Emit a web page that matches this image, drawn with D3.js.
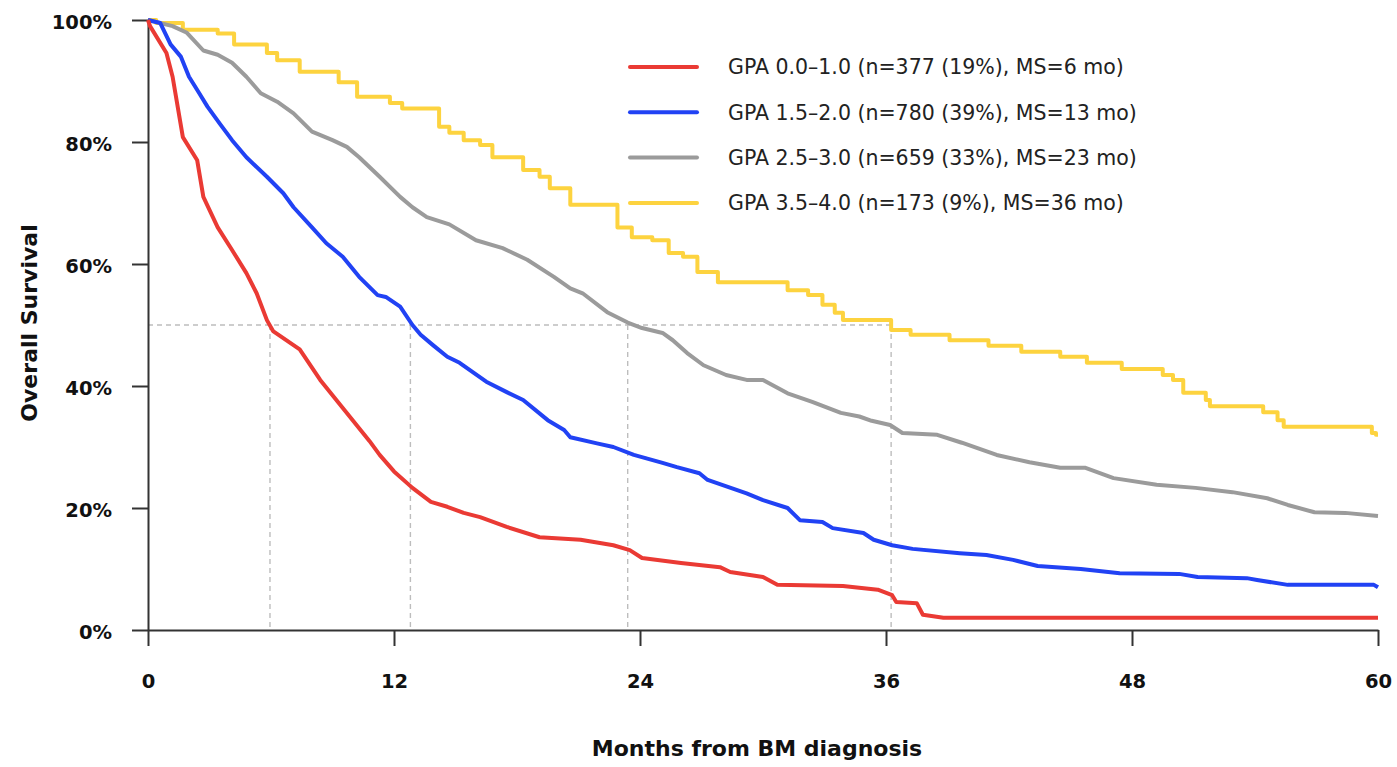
<!DOCTYPE html>
<html>
<head>
<meta charset="utf-8">
<script src="https://cdn.jsdelivr.net/npm/d3@7"></script>
<style>
  html, body { margin: 0; padding: 0; background: #fff; }
  svg { display: block; }
  .ax text { font-family: "DejaVu Sans", Verdana, sans-serif; font-weight: bold; fill: #111; }
  .lg { font-family: "DejaVu Sans", Verdana, sans-serif; fill: #222; }
  .ttl { font-family: "DejaVu Sans", Verdana, sans-serif; font-weight: bold; fill: #111; }
</style>
</head>
<body>
<svg id="chart" width="1397" height="767"></svg>
<script>
// ---------------- data ----------------
const labels = [
  "GPA 0.0\u20131.0 (n=377 (19%), MS=6 mo)",
  "GPA 1.5\u20132.0 (n=780 (39%), MS=13 mo)",
  "GPA 2.5\u20133.0 (n=659 (33%), MS=23 mo)",
  "GPA 3.5\u20134.0 (n=173 (9%), MS=36 mo)"
];
const colors = ["#ea3a34", "#2142f4", "#9b9b9b", "#fdd33f"];
const medians = [5.95, 12.8, 23.4, 36.25];
const xTicks = [0, 12, 24, 36, 48, 60];
const yTicks = [0, 20, 40, 60, 80, 100];

// GPA 0.0-1.0
const g1Months = [0,0.1,0.9,1.2,1.7,2.4,2.7,3.4,4.1,4.8,5.3,5.8,6.1,7.4,8.4,9.6,10.8,11.3,12.0,12.9,13.8,14.6,15.4,16.2,17.5,19.1,21.1,22.7,23.5,24.1,26,27.9,28.4,30,30.7,33.9,35.6,36.3,36.5,37.5,37.8,38.8,60];
const g1Surv   = [100,99,94.6,90.7,80.8,77,71,66,62.3,58.5,55.2,50.8,49,46,41,36,31,28.7,26,23.3,21,20.2,19.2,18.5,16.9,15.2,14.8,13.9,13.1,11.8,11,10.3,9.5,8.7,7.4,7.2,6.6,5.7,4.6,4.4,2.5,2.0,2.0];
// GPA 1.5-2.0
const g2Months = [0,0.6,1.1,1.6,2.0,2.5,2.9,3.5,4.1,4.8,5.8,6.6,7.1,8.0,8.7,9.5,10.3,11.2,11.6,12.3,12.9,13.3,13.9,14.6,15.2,16.5,17.5,18.3,19.5,20.3,20.6,21.9,22.7,23.7,25.1,25.8,26.9,27.3,29.2,30,31.2,31.8,32.9,33.4,34.9,35.4,36.3,37.3,39.6,40.9,42.2,43.4,45.5,47.4,50.3,51.2,53.6,54.1,55.6,59.8,60];
const g2Surv   = [100,99.5,96,94,90.7,88,85.8,83,80.3,77.5,74.3,71.6,69.3,66,63.4,61.2,57.9,54.9,54.6,53,50,48.4,46.7,44.8,43.8,40.7,39,37.7,34.4,32.8,31.6,30.6,30,28.7,27.4,26.7,25.7,24.6,22.4,21.3,20,18,17.7,16.7,15.9,14.8,13.9,13.3,12.6,12.3,11.5,10.5,10,9.3,9.2,8.7,8.5,8.2,7.4,7.4,7.0];
// GPA 2.5-3.0
const g3Months = [0,1.2,1.9,2.7,3.4,4.1,4.8,5.5,6.3,7.1,8.0,9.0,9.7,10.3,11.3,12.3,12.9,13.6,14.7,16.0,17.3,18.5,19.8,20.6,21.2,22.4,23.4,24.1,25.1,25.6,26.3,27.1,28.2,29.2,30.0,31.2,32.4,33.8,34.7,35.3,36.2,36.8,38.5,39.7,41.4,43.0,44.5,45.7,47.1,49.2,51.1,52.9,54.6,55.6,56.9,58.4,60];
const g3Surv   = [100,99,97.9,95,94.3,93,90.7,88,86.6,84.7,81.7,80.3,79.2,77.5,74.3,71,69.3,67.7,66.5,63.9,62.6,60.7,57.9,56,55.2,52.1,50.4,49.5,48.7,47.5,45.4,43.4,41.8,41,41,38.8,37.4,35.6,35,34.3,33.6,32.3,32,30.7,28.7,27.5,26.6,26.6,24.9,23.8,23.3,22.6,21.6,20.5,19.3,19.2,18.7];
// GPA 3.5-4.0 (step function)
const g4Months = [0,0.4,1.7,3.4,4.2,5.8,6.3,7.4,9.3,10.2,11.8,12.4,14.2,14.7,15.4,16.2,16.8,18.3,19.1,19.6,20.6,22.9,23.6,24.6,25.4,26.1,26.8,27.8,31.2,32.2,32.9,33.5,33.9,36.25,37.2,39.1,41.0,42.6,44.5,45.8,47.5,49.5,50.0,50.5,51.6,51.8,54.4,55.1,55.4,59.7,59.9,60];
const g4Surv   = [100,99.5,98.4,97.8,96,94.6,93.4,91.5,89.8,87.4,86.4,85.5,82.5,81.5,80.3,79.5,77.5,75.4,74.3,72.4,69.7,66,64.4,63.9,61.8,61.2,58.7,57,55.7,54.9,53.3,52,50.8,49.2,48.4,47.5,46.6,45.6,44.8,43.8,42.8,41.8,41,38.9,37.7,36.7,35.7,34.4,33.3,32.3,32.0,32.0];

const seriesMonths = [g1Months, g2Months, g3Months, g4Months];
const seriesSurv = [g1Surv, g2Surv, g3Surv, g4Surv];

// ---------------- chart ----------------
const svg = d3.select("#chart");
const x = d3.scaleLinear().domain([0, 60]).range([148, 1378]);
const y = d3.scaleLinear().domain([0, 100]).range([630, 20]);

// median guides
const guides = svg.append("g").attr("stroke", "#bdbdbd").attr("stroke-width", 1.4).attr("stroke-dasharray", "5,4").attr("fill", "none");
guides.append("line").attr("x1", x(0)).attr("x2", x(d3.max(medians))).attr("y1", y(50)).attr("y2", y(50));
medians.forEach(m => {
  guides.append("line").attr("x1", x(m)).attr("x2", x(m)).attr("y1", y(50)).attr("y2", y(0));
});

// axes
const yAxis = d3.axisLeft(y).tickValues(yTicks).tickFormat(d => d + "%").tickSize(16).tickSizeOuter(0).tickPadding(20);
const gy = svg.append("g").attr("class", "ax").attr("transform", `translate(${x(0)},0)`).call(yAxis);
gy.selectAll("text").attr("font-size", 19.5).attr("dy", "0.45em");
gy.selectAll("path, line").attr("stroke", "#333").attr("stroke-width", 2);

const xAxis = d3.axisBottom(x).tickValues(xTicks).tickSize(16).tickSizeOuter(0).tickPadding(28);
const gx = svg.append("g").attr("class", "ax").attr("transform", `translate(0,${y(0)})`).call(xAxis);
gx.selectAll("text").attr("font-size", 19.5);
gx.selectAll("path, line").attr("stroke", "#333").attr("stroke-width", 2);

// curves
const linear = d3.line().x(d => x(d[0])).y(d => y(d[1])).curve(d3.curveLinear);
const step = d3.line().x(d => x(d[0])).y(d => y(d[1])).curve(d3.curveStepAfter);
const order = [3, 2, 1, 0];
order.forEach(i => {
  const pts = seriesMonths[i].map((m, k) => [m, seriesSurv[i][k]]);
  svg.append("path")
    .attr("d", (i === 3 ? step : linear)(pts))
    .attr("fill", "none")
    .attr("stroke", colors[i])
    .attr("stroke-width", 4)
    .attr("stroke-linejoin", "round");
});

// legend
const lg = svg.append("g");
labels.forEach((t, i) => {
  const ly = 67 + i * 45.3;
  lg.append("line").attr("x1", 630).attr("x2", 697).attr("y1", ly).attr("y2", ly)
    .attr("stroke", colors[i]).attr("stroke-width", 4).attr("stroke-linecap", "round");
  lg.append("text").attr("class", "lg").attr("x", 728).attr("y", ly).attr("dy", "0.36em")
    .attr("font-size", 20.5).text(t);
});

// axis titles
svg.append("text").attr("class", "ttl").attr("x", 757).attr("y", 756)
  .attr("text-anchor", "middle").attr("font-size", 22)
  .text("Months from BM diagnosis");
svg.append("text").attr("class", "ttl").attr("transform", "translate(37,323) rotate(-90)")
  .attr("text-anchor", "middle").attr("font-size", 22)
  .text("Overall Survival");
</script>
</body>
</html>
